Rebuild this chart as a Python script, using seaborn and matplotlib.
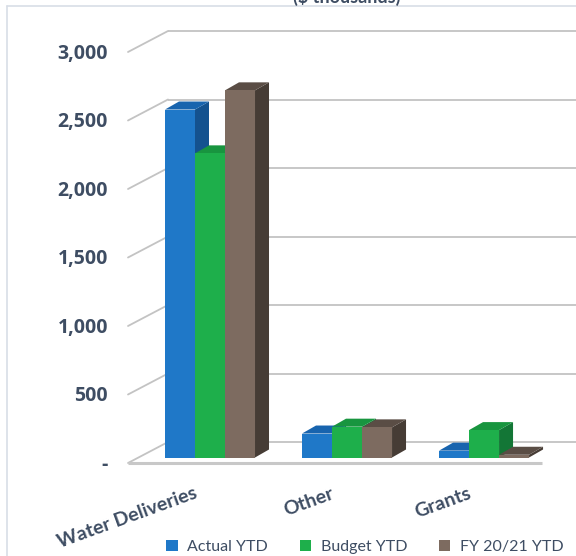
import matplotlib
matplotlib.use("Agg")
import matplotlib.pyplot as plt
from matplotlib.patches import Polygon, Patch
from matplotlib.lines import Line2D
from matplotlib.transforms import offset_copy
import numpy as np
import pandas as pd
import seaborn as sns

# ---- data ($ thousands) ----
categories = ["Water Deliveries", "Other", "Grants"]
series = ["Actual YTD", "Budget YTD", "FY 20/21 YTD"]
actual_ytd = [2540, 175, 50]
budget_ytd = [2220, 225, 200]
fy2021_ytd = [2680, 220, 20]
y_ticks = [0, 500, 1000, 1500, 2000, 2500, 3000]
y_tick_labels = ["-", "500", "1,000", "1,500", "2,000", "2,500", "3,000"]

# ---- colours for each face of the columns ----
front_colors = ["#1F78C8", "#1EAF4B", "#7D6B60"]
side_colors = ["#14528F", "#137636", "#463C35"]
top_colors = ["#1864AE", "#18953F", "#5A4D45"]
text_color = "#3E4D63"
grid_color = "#C3C3C3"

sns.set_theme(style="white")
plt.rcParams["font.family"] = ["Lato", "DejaVu Sans"]

W, H, DPI = 576, 556, 100
fig = plt.figure(figsize=(W / DPI, H / DPI), dpi=DPI)
ax = fig.add_axes([138 / W, 98.5 / H, 414 / W, 411 / H])

df = pd.DataFrame({
    "category": categories * 3,
    "series": [s for s in series for _ in categories],
    "value": actual_ytd + budget_ytd + fy2021_ytd,
})

sns.barplot(data=df, x="category", y="value", hue="series",
            order=categories, hue_order=series, palette=front_colors,
            saturation=1, width=0.657, gap=0, linewidth=0,
            legend=False, ax=ax)

xmin, xmax = -0.5255, 2.496
ymin, ymax = 0, 3000
ax.set_xlim(xmin, xmax)
ax.set_ylim(ymin, ymax)
ax.axis("off")

# pixel -> data conversions for the pseudo-3D depth offsets
px_x = 414 / (xmax - xmin)
px_y = 411 / (ymax - ymin)
def dx(p):
    return p / px_x
def dy(p):
    return p / px_y

# ---- walls and floor ----
back_dx, back_dy = 30, 15.5     # back wall relative to the column plane
front_dx, front_dy = -10, -5.5  # front edge relative to the column plane
for v in y_ticks:
    ax.plot([xmin + dx(back_dx), xmax + dx(back_dx)],
            [v + dy(back_dy)] * 2, color=grid_color, lw=1.3,
            clip_on=False, zorder=0.5, solid_capstyle="butt")
    ax.plot([xmin + dx(front_dx), xmin + dx(back_dx)],
            [v + dy(front_dy), v + dy(back_dy)], color=grid_color, lw=1.3,
            clip_on=False, zorder=0.5)
ax.plot([xmin + dx(front_dx), xmax + dx(front_dx)], [dy(front_dy)] * 2,
        color="#C8C8C8", lw=2.2, clip_on=False, zorder=0.6,
        solid_capstyle="butt")

# ---- extrude every column into a box ----
bar_dx, bar_dy = dx(14), dy(8)
bars = sorted(ax.patches, key=lambda p: p.get_x())
for i, p in enumerate(bars):
    k = i % 3
    x0, w, h = p.get_x(), p.get_width(), p.get_height()
    z = 2 + i * 0.1
    side = Polygon([(x0 + w, 0), (x0 + w + bar_dx, bar_dy),
                    (x0 + w + bar_dx, h + bar_dy), (x0 + w, h)],
                   closed=True, facecolor=side_colors[k], edgecolor="none",
                   zorder=z, clip_on=False)
    top = Polygon([(x0, h), (x0 + w, h), (x0 + w + bar_dx, h + bar_dy),
                   (x0 + bar_dx, h + bar_dy)],
                  closed=True, facecolor=top_colors[k], edgecolor="none",
                  zorder=z + 0.01, clip_on=False)
    ax.add_patch(side)
    ax.add_patch(top)
    p.set_zorder(z + 0.02)
    p.set_clip_on(False)

# ---- axis labels ----
ylab_tr = offset_copy(ax.transData, fig=fig, x=-30, y=-7, units="dots")
for v, lab in zip(y_ticks, y_tick_labels):
    ax.text(xmin, v, lab, transform=ylab_tr, ha="right", va="center",
            fontsize=14, fontweight="bold", color=text_color,
            family=["Open Sans", "DejaVu Sans"])

xlab_tr = offset_copy(ax.transData, fig=fig, x=-12, y=-40.5, units="dots")
for i, cat in enumerate(categories):
    ax.text(i, 0, cat, transform=xlab_tr, ha="right", va="baseline",
            rotation=20, rotation_mode="anchor", fontsize=14,
            fontweight="bold", color=text_color)

# ---- title (top of the panel) ----
fig.text(347 / W, 1 - 3 / H, "($ thousands)", ha="center", va="baseline",
         fontsize=13, fontweight="bold", color=text_color)

# ---- panel border ----
fig.add_artist(Line2D([7 / W, 1], [1 - 6 / H] * 2, transform=fig.transFigure,
                      color="#D8DEE6", lw=1.2))
fig.add_artist(Line2D([7 / W, 7 / W], [0, 1 - 6 / H], transform=fig.transFigure,
                      color="#D8DEE6", lw=1.2))

# ---- legend ----
handles = [Patch(facecolor=c, edgecolor="none", label=s)
           for c, s in zip(front_colors, series)]
fig.legend(handles=handles, loc="center", bbox_to_anchor=(365 / W, 9 / H),
           ncol=3, frameon=False, handlelength=0.7, handleheight=0.7,
           handletextpad=0.6, columnspacing=2.0, fontsize=11.5,
           labelcolor=text_color, borderpad=0)

fig.savefig("out.png", dpi=DPI)
